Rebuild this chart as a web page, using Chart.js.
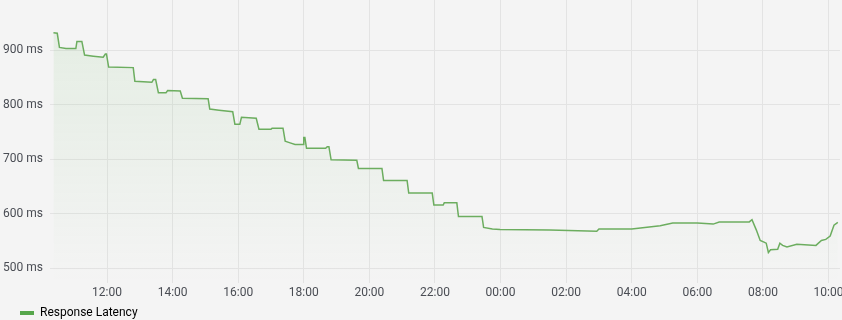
<!DOCTYPE html>
<html>
<head>
<meta charset="utf-8">
<title>Response Latency</title>
<script src="https://cdn.jsdelivr.net/npm/chart.js@4.4.0/dist/chart.umd.min.js"></script>
<style>
  body { margin: 0; background: #f4f4f4; }
  #wrap { width: 842px; height: 320px; }
</style>
</head>
<body>
<div id="wrap"><canvas id="chartLatency"></canvas></div>
<script>
// readings, time of day (runs past midnight)
const times = ['10:22', '10:29', '10:33', '10:45', '11:03', '11:05', '11:14', '11:19', '11:35', '11:53',
  '11:57', '11:59', '12:03', '12:48', '12:51', '13:22', '13:25', '13:29', '13:34', '13:48',
  '13:51', '14:14', '14:18', '15:05', '15:08', '15:25', '15:50', '15:54', '16:03', '16:06',
  '16:33', '16:38', '17:00', '17:02', '17:22', '17:26', '17:35', '17:44', '17:59', '18:00',
  '18:02', '18:05', '18:40', '18:43', '18:46', '18:50', '19:37', '19:40', '20:23', '20:26',
  '21:09', '21:12', '21:55', '21:58', '22:15', '22:17', '22:40', '22:43', '23:26', '23:29',
  '23:45', '23:59', '01:30', '02:56', '03:00', '04:00', '04:52', '05:15', '06:00', '06:29',
  '06:40', '07:35', '07:40', '07:48', '07:55', '08:02', '08:06', '08:10', '08:14', '08:27',
  '08:31', '08:36', '08:44', '09:02', '09:37', '09:47', '09:55', '10:03', '10:10', '10:17']
const latency = [932, 931, 905, 903, 903, 916, 916, 891, 889, 887,
  893, 893, 869, 868, 843, 841, 846, 846, 822, 822,
  826, 825, 812, 811, 792, 790, 787, 764, 764, 777,
  775, 755, 755, 757, 757, 733, 730, 727, 727, 740,
  740, 720, 720, 723, 723, 699, 698, 683, 683, 661,
  661, 638, 638, 616, 616, 620, 620, 595, 595, 575,
  572, 571, 570, 568, 572, 572, 578, 583, 583, 581,
  585, 585, 589, 570, 551, 548, 546, 529, 534, 535,
  546, 542, 539, 544, 542, 551, 553, 559, 579, 584]
const yTicks = [500, 600, 700, 800, 900]
const xTicks = [12, 14, 16, 18, 20, 22, 24, 26, 28, 30, 32, 34]

var last = 0
var points = times.map(function (t, i) {
    var p = t.split(':')
    var h = Number(p[0]) + Number(p[1]) / 60
    while (h < last) h += 24
    last = h
    return { x: h, y: latency[i] }
})

function hourLabel(h) {
    var hh = h % 24
    return (hh < 10 ? '0' : '') + hh + ':00'
}

// push the legend swatch in from the left edge
const legendShift = {
    id: 'legendShift',
    afterLayout: function (chart) { chart.legend.left += 17 }
}

Chart.defaults.font.family = 'Roboto, "Noto Sans", sans-serif'
Chart.defaults.font.size = 12
Chart.defaults.color = '#4a4d54'

var ctxLatency = document.getElementById('chartLatency').getContext('2d')
var chartLatency = new Chart(ctxLatency, {
    type: 'line',
    data: {
        datasets: [{
            label: 'Response Latency',
            data: points,
            borderColor: '#6cad5f',
            borderWidth: 1.5,
            pointRadius: 0,
            tension: 0,
            fill: 'start',
            backgroundColor: function (ctx) {
                var area = ctx.chart.chartArea
                if (!area) return 'rgba(115,191,105,0.1)'
                var g = ctx.chart.ctx.createLinearGradient(0, area.top, 0, area.bottom)
                g.addColorStop(0, 'rgba(115,191,105,0.13)')
                g.addColorStop(1, 'rgba(115,191,105,0)')
                return g
            }
        }]
    },
    plugins: [legendShift],
    options: {
        responsive: true,
        maintainAspectRatio: false,
        animation: false,
        layout: { padding: { left: 0, right: 2, top: 0, bottom: -9 } },
        scales: {
            x: {
                type: 'linear',
                min: 10.262,
                max: 34.35,
                afterBuildTicks: function (scale) {
                    scale.ticks = xTicks.map(function (v) { return { value: v } })
                },
                afterFit: function (scale) {
                    scale.height = 21
                    scale.paddingLeft = 0
                    scale.paddingRight = 0
                },
                ticks: {
                    padding: 3,
                    maxRotation: 0,
                    callback: function (v) { return hourLabel(v) }
                },
                grid: { color: '#e3e3e3', drawTicks: false },
                border: { display: false }
            },
            y: {
                min: 473,
                max: 992,
                afterBuildTicks: function (scale) {
                    scale.ticks = yTicks.map(function (v) { return { value: v } })
                },
                afterFit: function (scale) {
                    scale.width = 50
                    scale.paddingTop = 0
                    scale.paddingBottom = 0
                },
                ticks: {
                    padding: 7,
                    callback: function (v) { return v + ' ms' }
                },
                grid: { color: '#e3e3e3', drawTicks: false },
                border: { display: false }
            }
        },
        plugins: {
            legend: {
                position: 'bottom',
                align: 'start',
                labels: {
                    boxWidth: 14,
                    boxHeight: 4,
                    padding: 3,
                    generateLabels: function (chart) {
                        return [{
                            text: 'Response Latency',
                            fillStyle: '#56a64b',
                            strokeStyle: '#56a64b',
                            lineWidth: 0,
                            datasetIndex: 0
                        }]
                    }
                }
            },
            tooltip: { enabled: false }
        }
    }
})
</script>
</body>
</html>
